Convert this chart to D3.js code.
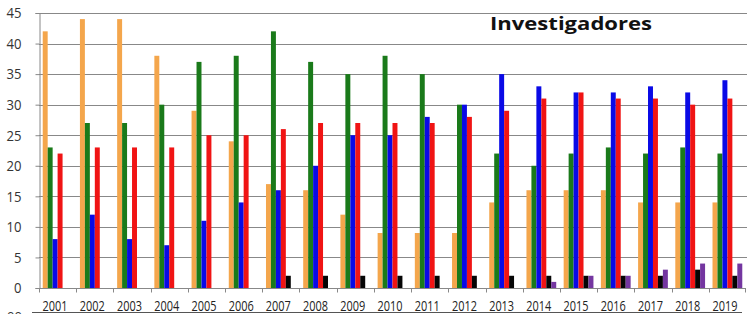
<!DOCTYPE html>
<html>
<head>
<meta charset="utf-8">
<script src="https://cdn.jsdelivr.net/npm/d3@7"></script>
<style>
  body { margin: 0; background: #fff; }
  svg { display: block; }
</style>
</head>
<body>
<svg id="chart"></svg>
<script>
// Years on the x axis
var years = ["2001","2002","2003","2004","2005","2006","2007","2008","2009","2010",
             "2011","2012","2013","2014","2015","2016","2017","2018","2019"];

// One array per colour of bar
var orange = [42, 44, 44, 38, 29, 24, 17, 16, 12, 9, 9, 9, 14, 16, 16, 16, 14, 14, 14];
var green  = [23, 27, 27, 30, 37, 38, 42, 37, 35, 38, 35, 30, 22, 20, 22, 23, 22, 23, 22];
var blue   = [8, 12, 8, 7, 11, 14, 16, 20, 25, 25, 28, 30, 35, 33, 32, 32, 33, 32, 34];
var red    = [22, 23, 23, 23, 25, 25, 26, 27, 27, 27, 27, 28, 29, 31, 32, 31, 31, 30, 31];
var black  = [0, 0, 0, 0, 0, 0, 2, 2, 2, 2, 2, 2, 2, 2, 2, 2, 2, 3, 2];
var purple = [0, 0, 0, 0, 0, 0, 0, 0, 0, 0, 0, 0, 0, 1, 2, 2, 3, 4, 4];

var yTicks = [0, 5, 10, 15, 20, 25, 30, 35, 40, 45];

var seriesNames = ["orange", "green", "blue", "red", "black", "purple"];
var seriesValues = [orange, green, blue, red, black, purple];
var colours = ["#f4a64c", "#1a7a1a", "#0a0ae6", "#f01414", "#050505", "#7436a0"];

// plot area (note: "top" is taken by window.top, so use other names)
var width = 747, height = 314;
var plotLeft = 39, plotRight = 746, plotTop = 13, plotBottom = 288;

var svg = d3.select("#chart")
  .attr("width", width)
  .attr("height", height);

var x = d3.scaleBand()
  .domain(years)
  .range([plotLeft, plotRight])
  .padding(0);

var xs = d3.scaleBand()
  .domain(seriesNames)
  .range([0, x.bandwidth()])
  .paddingInner(0)
  .paddingOuter(0.75);

var y = d3.scaleLinear()
  .domain([0, 45])
  .range([plotBottom, plotTop]);

var colour = d3.scaleOrdinal(seriesNames, colours);

// gridlines
svg.append("g")
  .selectAll("line")
  .data(yTicks.slice(1))
  .enter().append("line")
    .attr("x1", plotLeft)
    .attr("x2", width)
    .attr("y1", function(d) { return Math.round(y(d)) + 0.5; })
    .attr("y2", function(d) { return Math.round(y(d)) + 0.5; })
    .attr("stroke", "#888")
    .attr("stroke-width", 1);

// title
svg.append("text")
  .attr("x", 490)
  .attr("y", 30)
  .attr("textLength", 162)
  .attr("lengthAdjust", "spacingAndGlyphs")
  .style("font-family", "'Open Sans', sans-serif")
  .style("font-weight", "bold")
  .style("font-size", "18px")
  .style("fill", "#111")
  .text("Investigadores");

// bars
var rows = years.map(function(yr, i) {
  return seriesNames.map(function(s, j) {
    return { year: yr, series: s, value: seriesValues[j][i] };
  });
});

svg.append("g")
  .selectAll("g")
  .data(rows)
  .enter().append("g")
    .attr("transform", function(d) { return "translate(" + x(d[0].year) + ",0)"; })
  .selectAll("rect")
  .data(function(d) { return d.filter(function(e) { return e.value > 0; }); })
  .enter().append("rect")
    .attr("x", function(d) { return xs(d.series); })
    .attr("width", xs.bandwidth())
    .attr("y", function(d) { return y(d.value); })
    .attr("height", function(d) { return y(0) - y(d.value); })
    .attr("fill", function(d) { return colour(d.series); });

// y axis
var yAxis = svg.append("g")
  .attr("transform", "translate(" + (plotLeft + 0.5) + ",0)")
  .call(d3.axisLeft(y).tickValues(yTicks).tickSize(4).tickPadding(14));
yAxis.select(".domain").attr("stroke", "#888");
yAxis.selectAll(".tick line").attr("stroke", "#888");
yAxis.selectAll(".tick text")
  .attr("textLength", function(d) { return String(d).length * 7.5; })
  .attr("lengthAdjust", "spacingAndGlyphs")
  .style("font-family", "'Open Sans', sans-serif")
  .style("font-size", "15px")
  .attr("fill", "#333");

// x axis with ticks at category borders
var xAxis = svg.append("g")
  .attr("transform", "translate(0," + (plotBottom + 0.5) + ")");
xAxis.append("line")
  .attr("x1", plotLeft).attr("x2", plotRight)
  .attr("stroke", "#888");
xAxis.selectAll(".tk")
  .data(years.concat(["end"]))
  .enter().append("line")
    .attr("class", "tk")
    .attr("x1", function(d) { return d === "end" ? plotRight - 0.5 : Math.round(x(d)) + 0.5; })
    .attr("x2", function(d) { return d === "end" ? plotRight - 0.5 : Math.round(x(d)) + 0.5; })
    .attr("y1", 0).attr("y2", 4)
    .attr("stroke", "#888");
xAxis.selectAll(".lbl")
  .data(years)
  .enter().append("text")
    .attr("class", "lbl")
    .attr("x", function(d) { return x(d) + x.bandwidth() / 2 - 15; })
    .attr("y", 22.5)
    .attr("textLength", 25)
    .attr("lengthAdjust", "spacingAndGlyphs")
    .style("font-family", "'Open Sans', sans-serif")
    .style("font-size", "15px")
    .style("fill", "#222")
    .text(function(d) { return d; });

// the top of the next chart, cut off by the frame
svg.append("line")
  .attr("x1", 32).attr("x2", 742)
  .attr("y1", 312.5).attr("y2", 312.5)
  .attr("stroke", "#555");
svg.append("text")
  .attr("x", 7)
  .attr("y", 321)
  .style("font-family", "'Open Sans', sans-serif")
  .style("font-size", "13px")
  .style("fill", "#333")
  .text("00");
</script>
</body>
</html>
